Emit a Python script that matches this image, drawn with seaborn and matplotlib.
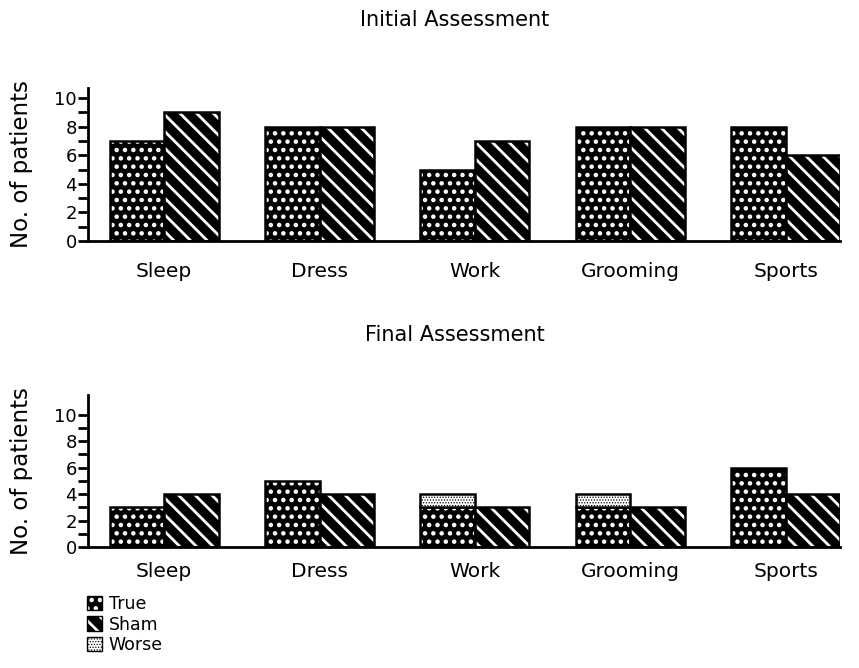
import matplotlib
matplotlib.use("Agg")
import matplotlib.pyplot as plt
import seaborn as sns
import pandas as pd
import numpy as np
from matplotlib.patches import Patch

categories = ["Sleep", "Dress", "Work", "Grooming", "Sports"]
groups = ["True", "Sham"]
initial_true = [7, 8, 5, 8, 8]
initial_sham = [9, 8, 7, 8, 6]
final_true = [3, 5, 3, 3, 6]
final_sham = [4, 4, 3, 3, 4]
final_worse = [0, 0, 1, 1, 0]
yticks = [0, 2, 4, 6, 8, 10]
titles = ["Initial Assessment", "Final Assessment"]

sns.set_theme(style="white")
plt.rcParams["font.family"] = ["DejaVu Sans"]
plt.rcParams["hatch.linewidth"] = 2.0
plt.rcParams["text.color"] = "black"
plt.rcParams["axes.labelcolor"] = "black"
plt.rcParams["xtick.color"] = "black"
plt.rcParams["ytick.color"] = "black"

W, H = 859, 668
fig = plt.figure(figsize=(W / 100, H / 100), dpi=100)

def frac(x0, ytop, x1, ybot):
    return [x0 / W, 1 - ybot / H, (x1 - x0) / W, (ybot - ytop) / H]

ax1 = fig.add_axes(frac(88, 88, 840, 241))
ax2 = fig.add_axes(frac(88, 395, 840, 547))

HATCH = {"True": "..", "Sham": "\\\\"}

def set_style(p, hatch, hatch_color, face="black", hlw=None):
    p.set_facecolor(face)
    p.set_edgecolor("black")
    p.set_linewidth(1.8)
    p.set_hatch(hatch)
    p._hatch_color = matplotlib.colors.to_rgba(hatch_color)
    if hlw is not None:
        try:
            p.set_hatch_linewidth(hlw)
        except Exception:
            pass

def draw(ax, t, s, ymax):
    df = pd.DataFrame({
        "cat": categories * 2,
        "grp": ["True"] * len(categories) + ["Sham"] * len(categories),
        "val": list(t) + list(s),
    })
    sns.barplot(data=df, x="cat", y="val", hue="grp", order=categories,
                hue_order=groups, palette=["black", "black"], width=0.7,
                legend=False, ax=ax, errorbar=None)
    for cont, g in zip(ax.containers, groups):
        for p in cont:
            set_style(p, HATCH[g], "white", hlw=2.0)
    ax.set_xlim(-0.49, 4.35)
    ax.set_ylim(0, ymax)
    ax.set_yticks(yticks)
    ax.set_yticks(range(0, 11), minor=True)
    ax.set_xlabel("")
    ax.set_ylabel("No. of patients", fontsize=16.5)
    ax.yaxis.set_label_coords(-0.073, 0.5)
    for sp in ["top", "right"]:
        ax.spines[sp].set_visible(False)
    for sp in ["left", "bottom"]:
        ax.spines[sp].set_linewidth(2)
        ax.spines[sp].set_color("black")
    ax.tick_params(axis="y", which="both", direction="out", length=7, width=2,
                   left=True, labelsize=13, pad=1, colors="black")
    ax.tick_params(axis="x", length=0, labelsize=14.5, colors="black")

draw(ax1, initial_true, initial_sham, 10.7)
ax1.tick_params(axis="x", pad=15)
draw(ax2, final_true, final_sham, 11.5)
ax2.tick_params(axis="x", pad=11)

# Worse stacked on top of True in final assessment
xpos = np.arange(len(categories)) - 0.175
wb = ax2.bar(xpos, final_worse, width=0.35, bottom=final_true)
for p, v in zip(wb, final_worse):
    set_style(p, "......", "black", face="white", hlw=0.6)
    if v == 0:
        p.set_visible(False)

fig.text(455 / W, 1 - 20 / H, titles[0], ha="center", va="center", fontsize=15)
fig.text(455 / W, 1 - 335 / H, titles[1], ha="center", va="center", fontsize=15)

handles = [Patch(facecolor="black", edgecolor="black", hatch=".."),
           Patch(facecolor="black", edgecolor="black", hatch="\\\\"),
           Patch(facecolor="white", edgecolor="black", hatch="......")]
leg = fig.legend(handles, ["True", "Sham", "Worse"], loc="upper left",
                 bbox_to_anchor=(80 / W, 1 - 588 / H), frameon=False,
                 handlelength=0.85, handleheight=0.9, handletextpad=0.4,
                 labelspacing=0.15, fontsize=12.5, borderaxespad=0)
for p, hc, hl in zip(leg.get_patches(), ["white", "white", "black"], [2.0, 2.0, 0.6]):
    p._hatch_color = matplotlib.colors.to_rgba(hc)
    p.set_linewidth(1.0)
    try:
        p.set_hatch_linewidth(hl)
    except Exception:
        pass

fig.savefig("out.png", dpi=100)
